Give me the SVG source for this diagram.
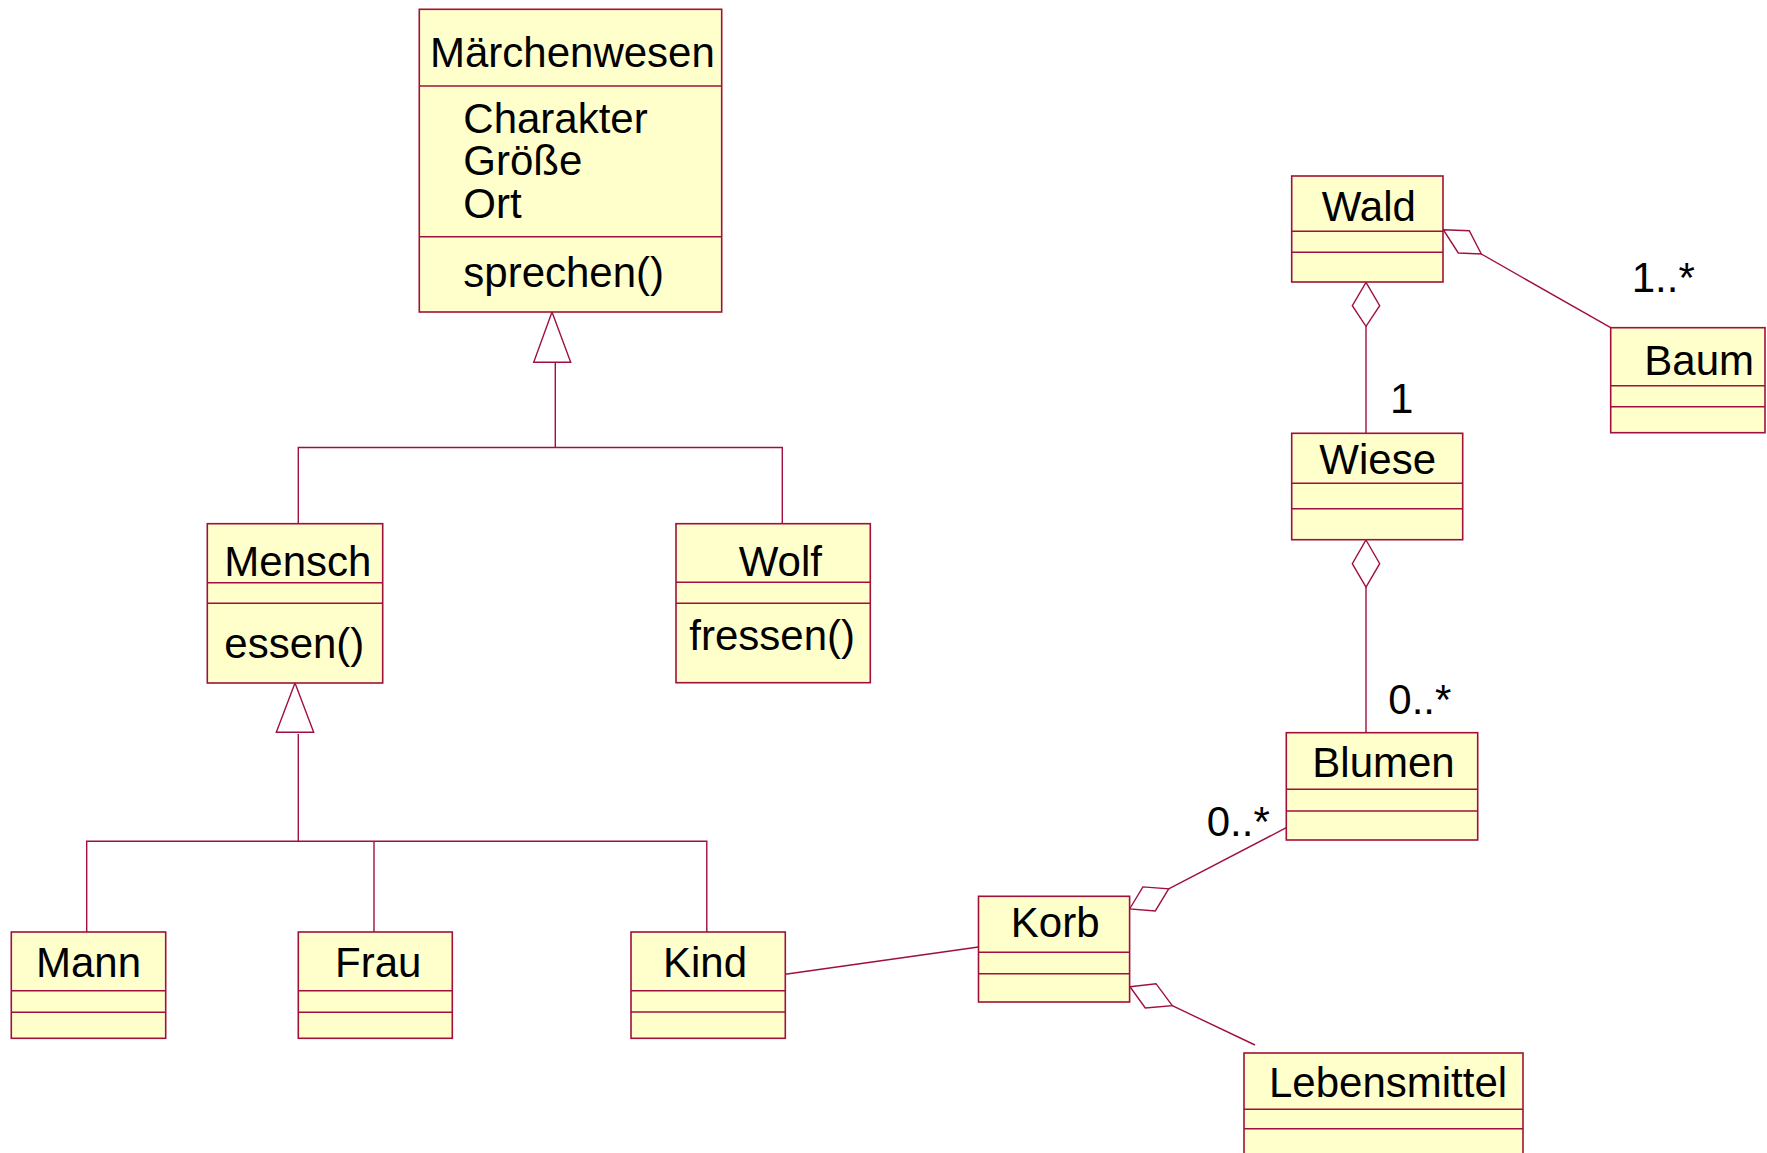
<svg xmlns="http://www.w3.org/2000/svg" width="1767" height="1153" viewBox="0 0 1767 1153">
<style>
.box{fill:#FFFFCC;stroke:#A0103C;stroke-width:1.6}
.div{stroke:#A0103C;stroke-width:1.4;fill:none}
.ln{stroke:#A0103C;stroke-width:1.4;fill:none}
.hd{fill:#fff;stroke:#A0103C;stroke-width:1.4}
text{font-family:"Liberation Sans",Arial,sans-serif;font-size:42px;fill:#000}
</style>
<rect width="1767" height="1153" fill="#fff"/>
<g id="connectors">
  <!-- generalization tree top -->
  <polygon class="hd" points="552,312 570.7,362.3 533.7,362.3"/>
  <polyline class="ln" points="555.3,362.3 555.3,447.5"/>
  <polyline class="ln" points="298.3,523.7 298.3,447.5 782.3,447.5 782.3,523.7"/>
  <!-- generalization tree Mensch -->
  <polygon class="hd" points="295,683 313.7,732.3 276.3,732.3"/>
  <polyline class="ln" points="298.3,734 298.3,841.3"/>
  <polyline class="ln" points="86.7,932 86.7,841.3 706.8,841.3 706.8,932"/>
  <polyline class="ln" points="374,841.3 374,932"/>
  <!-- Kind - Korb -->
  <line class="ln" x1="785.3" y1="974.3" x2="978.5" y2="947"/>
  <!-- Korb - Blumen -->
  <polygon class="hd" points="1129.6,909 1142.9,886.9 1168.7,888.8 1155.3,910.9"/>
  <line class="ln" x1="1168.7" y1="888.8" x2="1286.3" y2="827.7"/>
  <!-- Korb - Lebensmittel -->
  <polygon class="hd" points="1130,986.7 1156,983.7 1172.3,1005.7 1145.3,1008"/>
  <line class="ln" x1="1172.3" y1="1005.7" x2="1255" y2="1045"/>
  <!-- Wald - Wiese -->
  <polygon class="hd" points="1366,282.3 1379.7,305.7 1366,326.3 1352.3,305.7"/>
  <line class="ln" x1="1366" y1="326.3" x2="1366" y2="433.3"/>
  <!-- Wald - Baum -->
  <polygon class="hd" points="1443.3,229.7 1469.3,230.7 1481.3,254 1458.3,253"/>
  <line class="ln" x1="1481.3" y1="254" x2="1610.7" y2="327.7"/>
  <!-- Wiese - Blumen -->
  <polygon class="hd" points="1366,540 1379.7,563.7 1366,587 1352.3,563.7"/>
  <line class="ln" x1="1366" y1="587" x2="1366" y2="732.7"/>
  <!-- multiplicities -->
  <text x="1631.7" y="292.3">1..*</text>
  <text x="1390" y="413.3">1</text>
  <text x="1388.3" y="714.3">0..*</text>
  <text x="1206.7" y="836">0..*</text>
</g>
<g id="Maerchenwesen">
  <rect class="box" x="419.3" y="9.3" width="302.4" height="302.7"/>
  <line class="div" x1="419.3" y1="86" x2="721.7" y2="86"/>
  <line class="div" x1="419.3" y1="236.7" x2="721.7" y2="236.7"/>
  <text x="430" y="67">Märchenwesen</text>
  <text x="463.3" y="132.7">Charakter</text>
  <text x="463.3" y="175">Größe</text>
  <text x="463.3" y="218">Ort</text>
  <text x="463.3" y="287">sprechen()</text>
</g>
<g id="Mensch">
  <rect class="box" x="207.3" y="523.7" width="175.4" height="159.3"/>
  <line class="div" x1="207.3" y1="582.7" x2="382.7" y2="582.7"/>
  <line class="div" x1="207.3" y1="603.3" x2="382.7" y2="603.3"/>
  <text x="224.3" y="576">Mensch</text>
  <text x="224.3" y="657.7">essen()</text>
</g>
<g id="Wolf">
  <rect class="box" x="676" y="523.7" width="194.3" height="159"/>
  <line class="div" x1="676" y1="582.3" x2="870.3" y2="582.3"/>
  <line class="div" x1="676" y1="603.3" x2="870.3" y2="603.3"/>
  <text x="738.7" y="576">Wolf</text>
  <text x="689.3" y="650">fressen()</text>
</g>
<g id="Mann">
  <rect class="box" x="11.3" y="932" width="154.4" height="106.3"/>
  <line class="div" x1="11.3" y1="990.7" x2="165.7" y2="990.7"/>
  <line class="div" x1="11.3" y1="1012.3" x2="165.7" y2="1012.3"/>
  <text x="36" y="976.7">Mann</text>
</g>
<g id="Frau">
  <rect class="box" x="298.3" y="932" width="154" height="106.3"/>
  <line class="div" x1="298.3" y1="990.7" x2="452.3" y2="990.7"/>
  <line class="div" x1="298.3" y1="1012.3" x2="452.3" y2="1012.3"/>
  <text x="335" y="976.7">Frau</text>
</g>
<g id="Kind">
  <rect class="box" x="631" y="932" width="154.3" height="106.3"/>
  <line class="div" x1="631" y1="990.7" x2="785.3" y2="990.7"/>
  <line class="div" x1="631" y1="1012" x2="785.3" y2="1012"/>
  <text x="663" y="976.7">Kind</text>
</g>
<g id="Korb">
  <rect class="box" x="978.5" y="896.3" width="151.1" height="105.7"/>
  <line class="div" x1="978.5" y1="952.3" x2="1129.6" y2="952.3"/>
  <line class="div" x1="978.5" y1="973.7" x2="1129.6" y2="973.7"/>
  <text x="1010.8" y="936.7">Korb</text>
</g>
<g id="Wald">
  <rect class="box" x="1291.7" y="176" width="151.3" height="106"/>
  <line class="div" x1="1291.7" y1="231.3" x2="1443" y2="231.3"/>
  <line class="div" x1="1291.7" y1="252.3" x2="1443" y2="252.3"/>
  <text x="1321.7" y="220.7">Wald</text>
</g>
<g id="Baum">
  <rect class="box" x="1610.7" y="327.7" width="154.3" height="105"/>
  <line class="div" x1="1610.7" y1="385.7" x2="1765" y2="385.7"/>
  <line class="div" x1="1610.7" y1="406.7" x2="1765" y2="406.7"/>
  <text x="1644.3" y="375">Baum</text>
</g>
<g id="Wiese">
  <rect class="box" x="1291.7" y="433.3" width="171" height="106.4"/>
  <line class="div" x1="1291.7" y1="483.3" x2="1462.7" y2="483.3"/>
  <line class="div" x1="1291.7" y1="508.7" x2="1462.7" y2="508.7"/>
  <text x="1319.3" y="474">Wiese</text>
</g>
<g id="Blumen">
  <rect class="box" x="1286.3" y="732.7" width="191.4" height="107.3"/>
  <line class="div" x1="1286.3" y1="789.3" x2="1477.7" y2="789.3"/>
  <line class="div" x1="1286.3" y1="811" x2="1477.7" y2="811"/>
  <text x="1312.3" y="777.3">Blumen</text>
</g>
<g id="Lebensmittel">
  <rect class="box" x="1244" y="1053" width="279" height="110"/>
  <line class="div" x1="1244" y1="1109.3" x2="1523" y2="1109.3"/>
  <line class="div" x1="1244" y1="1128.7" x2="1523" y2="1128.7"/>
  <text x="1269" y="1096.7">Lebensmittel</text>
</g>
</svg>
